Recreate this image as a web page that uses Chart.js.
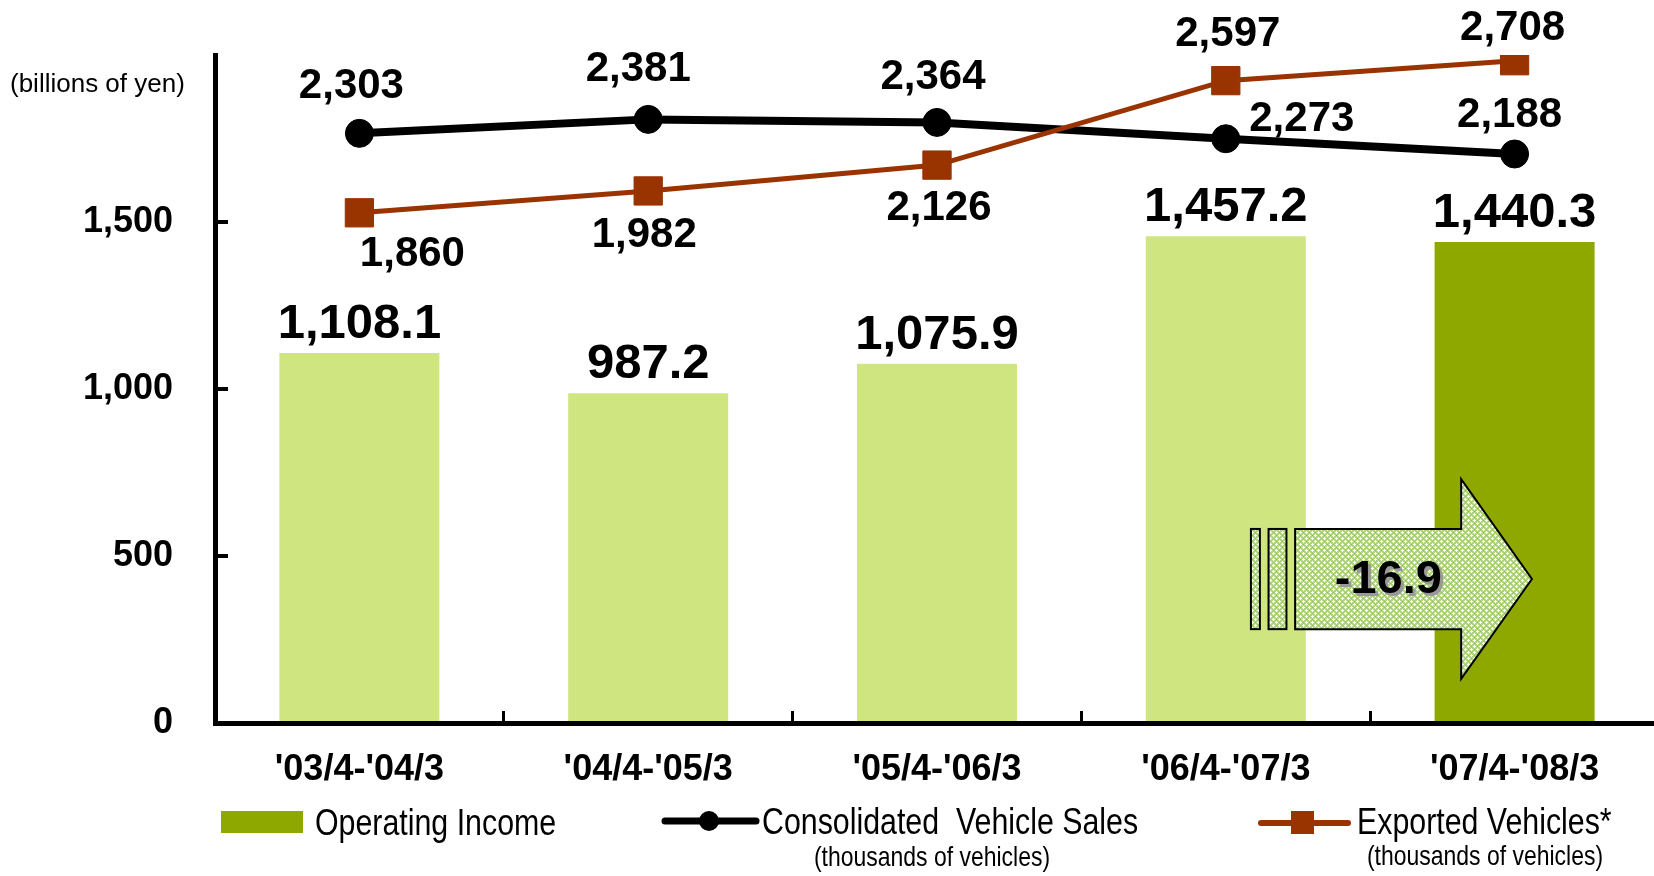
<!DOCTYPE html>
<html>
<head>
<meta charset="utf-8">
<script src="https://cdn.jsdelivr.net/npm/chart.js@4.4.1/dist/chart.umd.min.js"></script>
<style>
  html, body { margin: 0; padding: 0; background: #fff; overflow: hidden; }
  #wrap { position: absolute; left: 0; top: 0; width: 1680px; height: 876px; }
</style>
</head>
<body>
<div id="wrap"><canvas id="chart"></canvas></div>
<script>
const periods = ["'03/4-'04/3", "'04/4-'05/3", "'05/4-'06/3", "'06/4-'07/3", "'07/4-'08/3"];
const operatingIncome = [1108.1, 987.2, 1075.9, 1457.2, 1440.3];
const consolidatedSales = [2303, 2381, 2364, 2273, 2188];
const exportedVehicles = [1860, 1982, 2126, 2597, 2708];
const incomeTicks = [0, 500, 1000, 1500];
const changeLabel = '-16.9';

const LIGHT = '#cee580';
const DARK = '#8fa800';
const BROWN = '#993300';
const SANS = "'Liberation Sans', Arial, sans-serif";

// label placement relative to each point (dx, dy to baseline)
const salesLabelOffset = [[-8, -35], [-10, -38], [-4, -33], [76, -8], [-5, -27]];
const exportLabelOffset = [[53, 53], [-4, 56], [2, 55], [2, -35], [-2, -21]];

let hasNarrow = null;
function narrowText(ctx, text, x, y, size, align) {
  if (hasNarrow === null) {
    ctx.font = "40px 'Liberation Sans Narrow', monospace";
    const a = ctx.measureText('Operating Income').width;
    ctx.font = '40px monospace';
    hasNarrow = a !== ctx.measureText('Operating Income').width;
  }
  ctx.save();
  ctx.textAlign = align || 'left';
  ctx.textBaseline = 'alphabetic';
  ctx.fillStyle = '#000';
  if (hasNarrow) {
    ctx.font = size + "px 'Liberation Sans Narrow'";
    ctx.fillText(text, x, y);
  } else {
    ctx.translate(x, y);
    ctx.scale(0.82, 1);
    ctx.font = size + 'px ' + SANS;
    ctx.fillText(text, 0, 0);
  }
  ctx.restore();
}

function makeHatch(ctx) {
  const c = document.createElement('canvas');
  c.width = 6; c.height = 6;
  const g = c.getContext('2d');
  g.fillStyle = '#afd582'; g.fillRect(0, 0, 6, 6);
  g.fillStyle = '#8cbd52';
  g.fillRect(4, 1, 1, 1); g.fillRect(1, 4, 1, 1);
  g.fillStyle = '#ffffff';
  [[1, 1], [4, 4]].forEach(([cx, cy]) => {
    g.fillRect(cx, cy - 1, 1, 3);
    g.fillRect(cx - 1, cy, 3, 1);
  });
  return ctx.createPattern(c, 'repeat');
}

const overlay = {
  id: 'overlay',
  afterDatasetsDraw(chart) {
    const { ctx, scales: { x, y } } = chart;

    // change arrow between the last two bars
    ctx.save();
    ctx.fillStyle = makeHatch(ctx);
    ctx.strokeStyle = '#000';
    ctx.lineWidth = 2;
    ctx.lineJoin = 'miter';
    [[3.087, 3.118], [3.148, 3.21]].forEach(([a, b]) => {
      const l = x.getPixelForValue(a), r = x.getPixelForValue(b);
      const t = y.getPixelForValue(581), btm = y.getPixelForValue(281);
      ctx.fillRect(l, t, r - l, btm - t);
      ctx.strokeRect(l, t, r - l, btm - t);
    });
    const pts = [[3.24, 581], [3.815, 581], [3.815, 730], [4.06, 431], [3.815, 132], [3.815, 281], [3.24, 281]];
    ctx.beginPath();
    pts.forEach(([vx, vy], i) => {
      const px = x.getPixelForValue(vx), py = y.getPixelForValue(vy);
      if (i === 0) ctx.moveTo(px, py); else ctx.lineTo(px, py);
    });
    ctx.closePath();
    ctx.fill();
    ctx.stroke();
    ctx.font = 'bold 47px ' + SANS;
    ctx.textAlign = 'center';
    ctx.textBaseline = 'middle';
    const tx = x.getPixelForValue(3.563), ty = y.getPixelForValue(428);
    ctx.fillStyle = '#999';
    ctx.fillText(changeLabel, tx + 3, ty + 3);
    ctx.fillStyle = '#000';
    ctx.fillText(changeLabel, tx, ty);
    ctx.restore();

    // value labels
    ctx.save();
    ctx.fillStyle = '#000';
    ctx.textAlign = 'center';
    ctx.textBaseline = 'alphabetic';
    ctx.font = 'bold 49px ' + SANS;
    chart.getDatasetMeta(0).data.forEach((bar, i) => {
      const txt = operatingIncome[i].toLocaleString('en-US', { minimumFractionDigits: 1 });
      ctx.fillText(txt, bar.x, bar.y - 15);
    });
    ctx.font = 'bold 42px ' + SANS;
    [[1, consolidatedSales, salesLabelOffset], [2, exportedVehicles, exportLabelOffset]].forEach(([di, vals, off]) => {
      chart.getDatasetMeta(di).data.forEach((pt, i) => {
        ctx.fillText(vals[i].toLocaleString('en-US'), pt.x + off[i][0], pt.y + off[i][1]);
      });
    });
    ctx.restore();
  },
  afterDraw(chart) {
    const ctx = chart.ctx;
    ctx.save();
    ctx.fillStyle = '#000';
    ctx.font = '26px ' + SANS;
    ctx.textAlign = 'left';
    ctx.textBaseline = 'alphabetic';
    ctx.fillText('(billions of yen)', 10, 92);

    // legend
    ctx.fillStyle = DARK;
    ctx.fillRect(221, 811, 82, 22);
    narrowText(ctx, 'Operating Income', 315, 835, 37);

    ctx.lineCap = 'round';
    ctx.strokeStyle = '#000';
    ctx.lineWidth = 7;
    ctx.beginPath(); ctx.moveTo(665, 821); ctx.lineTo(756, 821); ctx.stroke();
    ctx.fillStyle = '#000';
    ctx.beginPath(); ctx.arc(709, 821, 10, 0, Math.PI * 2); ctx.fill();
    narrowText(ctx, 'Consolidated  Vehicle Sales', 762, 834, 37);
    narrowText(ctx, '(thousands of vehicles)', 932, 866, 28, 'center');

    ctx.strokeStyle = BROWN;
    ctx.lineWidth = 6;
    ctx.beginPath(); ctx.moveTo(1261, 823); ctx.lineTo(1348, 823); ctx.stroke();
    ctx.fillStyle = BROWN;
    ctx.fillRect(1291, 811, 23, 23);
    narrowText(ctx, 'Exported Vehicles*', 1357, 834, 37);
    narrowText(ctx, '(thousands of vehicles)', 1485, 865, 28, 'center');
    ctx.restore();
  }
};

Chart.defaults.font.family = SANS;
Chart.defaults.color = '#000';

new Chart(document.getElementById('chart'), {
  type: 'bar',
  data: {
    labels: periods,
    datasets: [
      {
        label: 'Operating Income',
        data: operatingIncome,
        backgroundColor: operatingIncome.map((v, i) => i === operatingIncome.length - 1 ? DARK : LIGHT),
        categoryPercentage: 1,
        barPercentage: 0.554,
        order: 2
      },
      {
        type: 'line',
        label: 'Consolidated  Vehicle Sales',
        data: consolidatedSales,
        yAxisID: 'y2',
        borderColor: '#000',
        borderWidth: 8,
        pointStyle: 'circle',
        pointRadius: 14,
        pointBackgroundColor: '#000',
        pointBorderColor: '#000',
        pointBorderWidth: 1,
        tension: 0,
        order: 1
      },
      {
        type: 'line',
        label: 'Exported Vehicles*',
        data: exportedVehicles,
        yAxisID: 'y2',
        borderColor: BROWN,
        borderWidth: 5,
        pointStyle: 'rect',
        pointRadius: 20,
        pointBackgroundColor: BROWN,
        pointBorderColor: BROWN,
        pointBorderWidth: 1,
        tension: 0,
        order: 0
      }
    ]
  },
  options: {
    responsive: true,
    maintainAspectRatio: false,
    animation: false,
    layout: { padding: { left: 0, right: 12, top: 55, bottom: 0 } },
    plugins: { legend: { display: false }, tooltip: { enabled: false } },
    scales: {
      x: {
        grid: { drawOnChartArea: false, tickLength: -12, color: '#000', lineWidth: 3 },
        border: { color: '#000', width: 5 },
        ticks: { font: { size: 36, weight: 'bold' }, padding: 37, maxRotation: 0 },
        afterFit: s => { s.height = 153; s.paddingLeft = 0; s.paddingRight = 0; }
      },
      y: {
        min: 0,
        max: 2000,
        afterBuildTicks: s => { s.ticks = incomeTicks.map(v => ({ value: v })); },
        grid: { drawOnChartArea: false, tickLength: -13, color: '#000', lineWidth: 4 },
        border: { color: '#000', width: 5 },
        ticks: {
          font: { size: 36, weight: 'bold' },
          padding: 55,
          callback: v => v.toLocaleString('en-US')
        },
        afterFit: s => { s.width = 215; s.paddingTop = 0; s.paddingBottom = 0; }
      },
      y2: {
        display: false,
        min: -985,
        max: 2740
      }
    }
  },
  plugins: [overlay]
});
</script>
</body>
</html>
